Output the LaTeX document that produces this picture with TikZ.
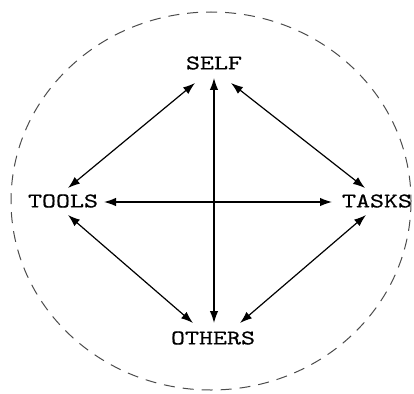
\documentclass[tikz,border=0pt]{standalone}
\usepackage{fontspec}
\newfontfamily\lblfont[Extension=.otf,FakeStretch=1.27,FakeBold=0.6]{lmmono10-regular}
\usetikzlibrary{arrows.meta,calc}
\begin{document}
\begin{tikzpicture}[x=1pt,y=-1pt,
  lbl/.style={font=\lblfont\fontsize{21}{21}\selectfont, inner sep=0pt, anchor=center},
  link/.style={line width=1.2pt, {Latex[length=12pt,width=8.5pt]}-{Latex[length=12pt,width=8.5pt]}},
  ring/.style={draw=black!70, line width=1pt, dash pattern=on 11pt off 8pt}]
\useasboundingbox (0,0) rectangle (414,393);
\draw[ring] (211,201) ellipse [x radius=200, y radius=189];
\node[lbl] (self) at (214,63) {SELF};
\node[lbl] (tools) at (63,201) {TOOLS};
\node[lbl] (tasks) at (377,201) {TASKS};
\node[lbl] (others) at (213,338) {OTHERS};
\draw[link] ($(self)+(-19,20)$) -- ($(tools)+(5,-13)$);
\draw[link] ($(self)+(17,20)$) -- ($(tasks)+(-12,-13)$);
\draw[link] ($(tools)+(5,14)$) -- ($(others)+(-20,-15)$);
\draw[link] ($(tasks)+(-11,14)$) -- ($(others)+(27,-15)$);
\draw[link] ($(self)+(0,15)$) -- ($(others)+(1,-15)$);
\draw[link] ($(tools)+(41,1)$) -- ($(tasks)+(-45,1)$);
\end{tikzpicture}
\end{document}
